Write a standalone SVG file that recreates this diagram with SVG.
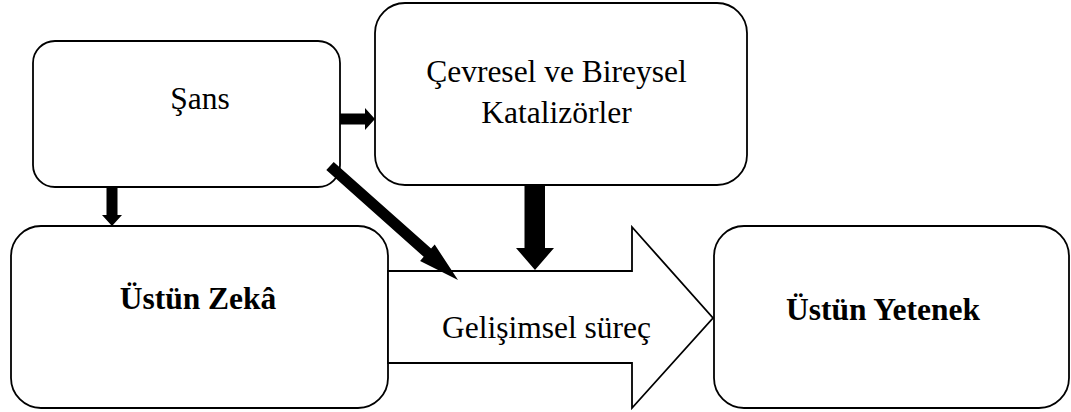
<svg xmlns="http://www.w3.org/2000/svg" width="1071" height="412" viewBox="0 0 1071 412">
<style>
.box{fill:#fff;stroke:#000;stroke-width:1.8}
.t{font-family:"Liberation Serif","Times New Roman",serif;font-size:31.5px;fill:#000;text-anchor:middle}
.b{font-weight:bold}
.arr{fill:#000;stroke:none}
</style>
<rect width="1071" height="412" fill="#fff"/>
<g id="node-sans">
<rect class="box" x="33" y="41" width="307" height="146" rx="22" ry="22"/>
<text class="t" x="200" y="109">Şans</text>
</g>
<g id="node-cevresel">
<rect class="box" x="375" y="3" width="372" height="182" rx="30" ry="30"/>
<text class="t" x="556.5" y="82">Çevresel ve Bireysel</text>
<text class="t" x="556.5" y="123">Katalizörler</text>
</g>
<g id="node-zeka">
<rect class="box" x="11" y="226" width="377" height="182" rx="30" ry="30"/>
<text class="t b" x="198" y="309">Üstün Zekâ</text>
</g>
<g id="node-surec">
<polygon class="box" points="388,271 632,271 632,227 713,318 632,408 632,363 388,363"/>
<text class="t" x="546.5" y="338">Gelişimsel süreç</text>
</g>
<g id="node-yetenek">
<rect class="box" x="714" y="226" width="355" height="182" rx="30" ry="30"/>
<text class="t b" x="883" y="320">Üstün Yetenek</text>
</g>
<g id="connectors">
<polygon class="arr" points="340,113.5 365,113.5 365,108 375,119 365,130 365,124.5 340,124.5"/>
<polygon class="arr" points="106.5,187 117.5,187 117.5,215 122,215 112,226 102,215 106.5,215"/>
<polygon class="arr" points="524.5,185 545,185 545,248 554,248 535,270 516,248 524.5,248"/>
<polygon class="arr" points="326.3,170.1 333.7,161.9 431.1,248.6 434.7,244.5 458,280 420.1,260.9 423.7,256.8"/>
</g>
</svg>
